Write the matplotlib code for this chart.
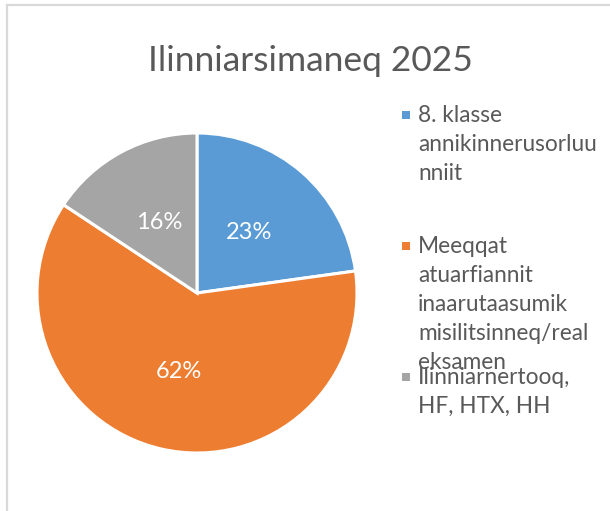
import matplotlib
matplotlib.use("Agg")
import matplotlib.pyplot as plt
from matplotlib.patches import Rectangle
from matplotlib.lines import Line2D

plt.rcParams['font.family'] = ['Lato', 'DejaVu Sans']

title = "Ilinniarsimaneq 2025"
categories = ["8. klasse annikinnerusorluunniit",
              "Meeqqat atuarfiannit inaarutaasumik misilitsinneq/real eksamen",
              "Ilinniarnertooq, HF, HTX, HH"]
# wrapped the way the legend shows them
legend_lines = [["8. klasse", "annikinnerusorluu", "nniit"],
                ["Meeqqat", "atuarfiannit", "inaarutaasumik", "misilitsinneq/real", "eksamen"],
                ["Ilinniarnertooq,", "HF, HTX, HH"]]
shares = [22.8, 61.5, 15.7]
colors = ["#5B9BD5", "#ED7D31", "#A5A5A5"]

W, H = 610, 511
fig = plt.figure(figsize=(W / 100, H / 100), dpi=100)
text_col = "#595959"

def fx(px):
    return px / W

def fy(py):
    return 1 - py / H

# chart area frame (top and left edges visible)
fig.add_artist(Line2D([fx(7), fx(7)], [fy(5), fy(520)], color="#D9D9D9", lw=1.6))
fig.add_artist(Line2D([fx(7), fx(615)], [fy(5), fy(5)], color="#D9D9D9", lw=1.6))

# pie: centre (197, 293), radius 160 px
cx, cy, r = 197, 293, 160
ax = fig.add_axes([fx(cx - r), fy(cy + r), 2 * r / W, 2 * r / H])
ax.pie(shares, colors=colors, startangle=90, counterclock=False,
       autopct=lambda p: f"{p:.0f}%", pctdistance=0.5,
       wedgeprops=dict(edgecolor="white", linewidth=2.2),
       textprops=dict(color="white", fontsize=17))
ax.set_xlim(-1, 1)
ax.set_ylim(-1, 1)
ax.set_aspect("equal")
ax.axis("off")

fig.text(fx(310), fy(71), title, ha="center", va="baseline",
         fontsize=25.5, color=text_col)

# legend (Excel lets "eksamen" run into the next entry, kept as in the original)
for i, lines in enumerate(legend_lines):
    base = 122 + 131 * i
    fig.add_artist(Rectangle((fx(402), fy(base - 3)), fx(8), 8 / H,
                             transform=fig.transFigure, color=colors[i], lw=0))
    for k, line in enumerate(lines):
        fig.text(fx(418), fy(base + 29 * k), line, ha="left", va="baseline",
                 fontsize=16.3, color=text_col)

fig.savefig("out.png", dpi=100)
